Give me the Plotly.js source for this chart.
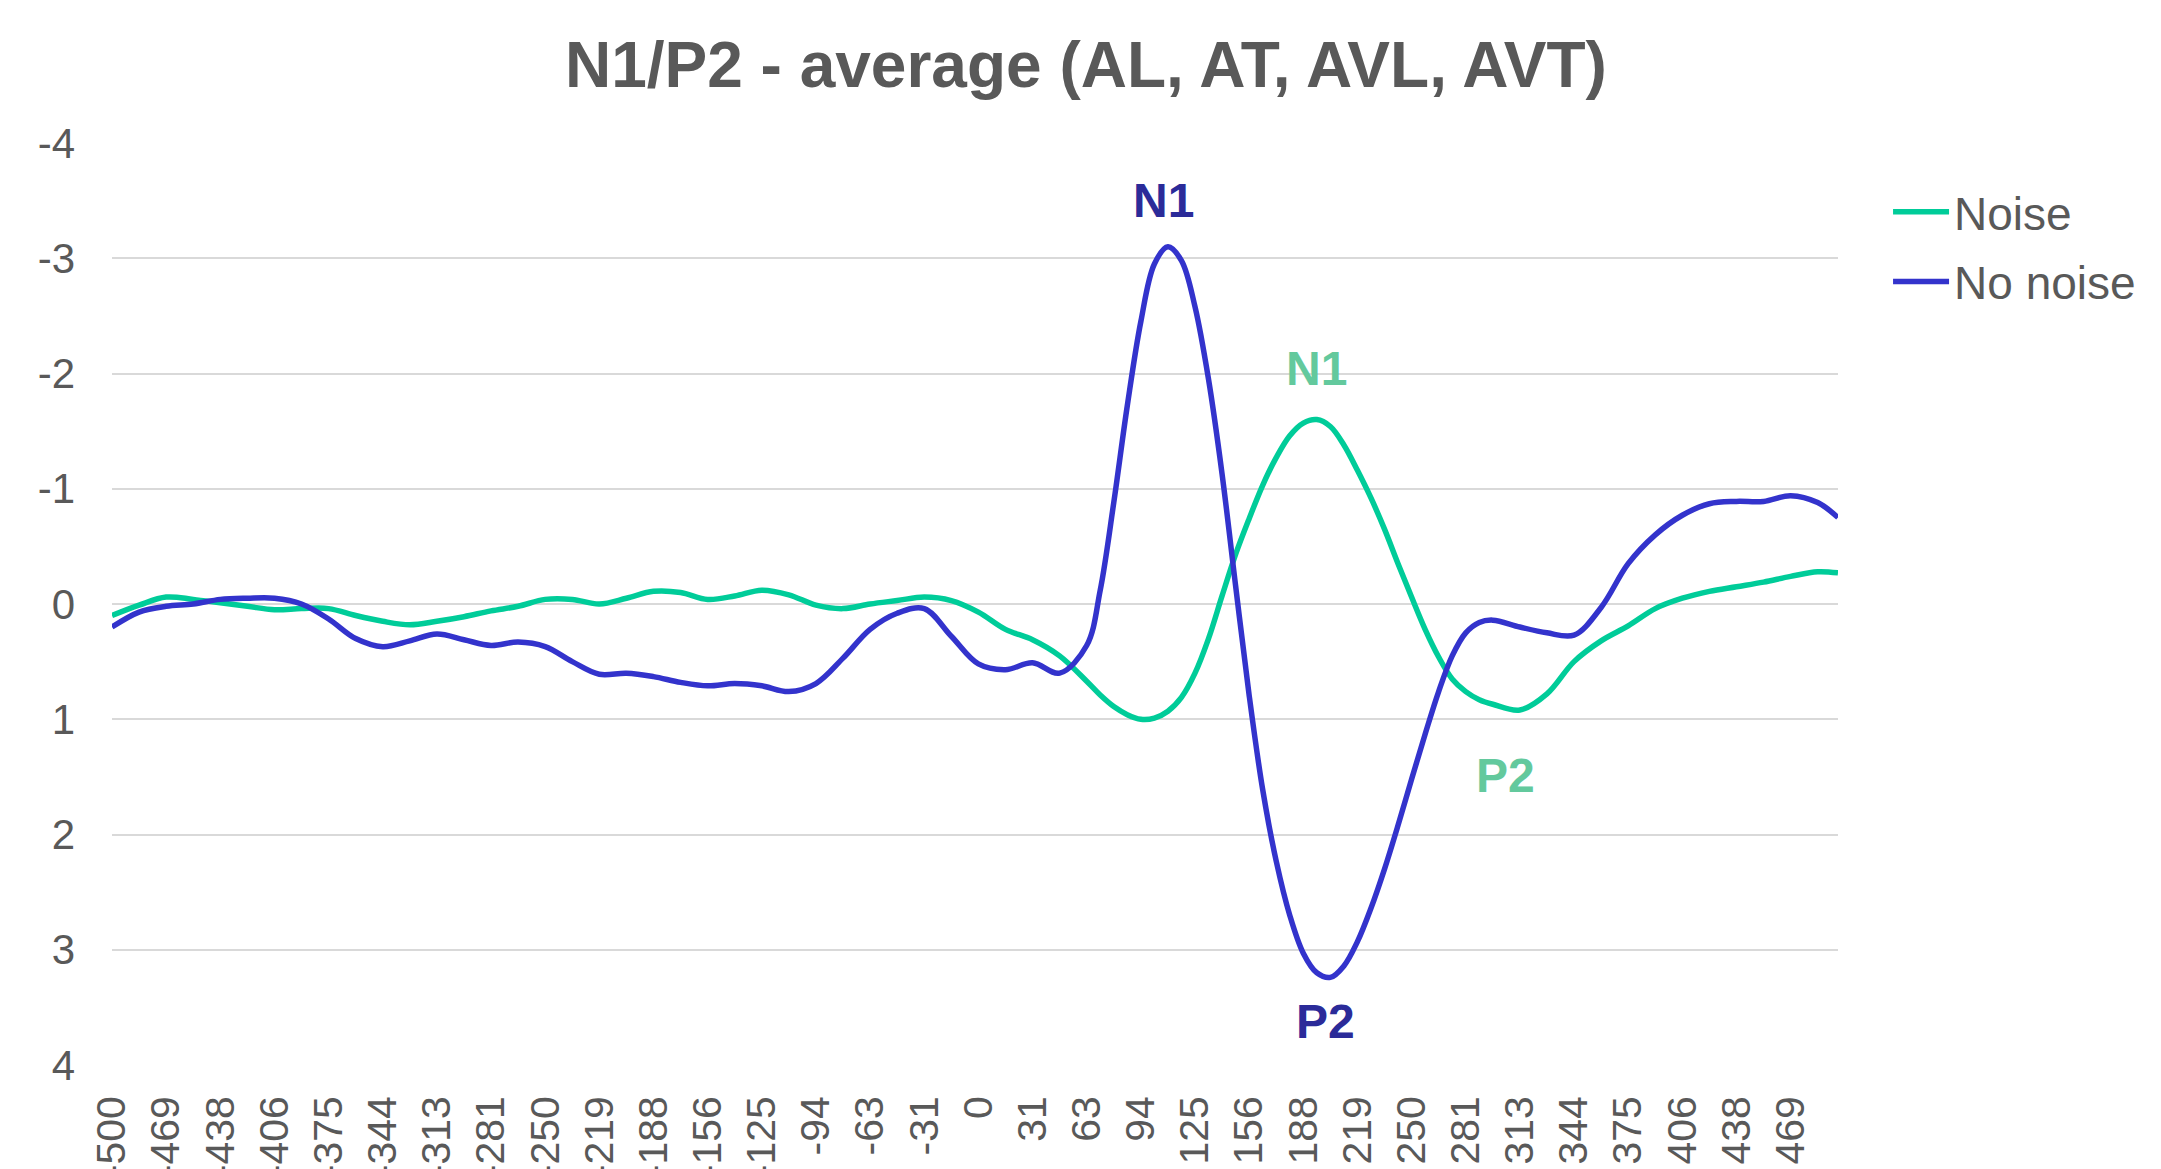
<!DOCTYPE html>
<html><head><meta charset="utf-8">
<script src="https://cdn.plot.ly/plotly-3.0.1.min.js"></script>
<style>html,body{margin:0;padding:0;overflow:hidden;background:#fff}</style>
</head><body><div id="chart" style="width:2161px;height:1169px"></div>
<script>
// time (ms) of each read point
const timesMs = [-500, -484.375, -468.75, -453.125, -437.5, -421.875, -406.25, -390.625, -375, -359.375,
  -343.75, -328.125, -312.5, -296.875, -281.25, -265.625, -250, -234.375, -218.75, -203.125,
  -187.5, -171.875, -156.25, -140.625, -125, -109.375, -93.75, -78.125, -62.5, -46.875,
  -31.25, -15.625, 0, 15.625, 31.25, 46.875, 62.5, 70.3125, 78.125, 85.9375,
  93.75, 101.5625, 109.375, 117.1875, 125, 132.8125, 140.625, 148.4375, 156.25, 164.0625,
  171.875, 179.6875, 187.5, 195.3125, 203.125, 210.9375, 218.75, 226.5625, 234.375, 242.1875,
  250, 257.8125, 265.625, 273.4375, 281.25, 289.0625, 296.875, 312.5, 328.125, 343.75,
  359.375, 375, 390.625, 406.25, 421.875, 437.5, 453.125, 468.75, 484.375, 496.09375];

const noise = [0.10, 0.01, -0.06, -0.04, -0.01, 0.02, 0.05, 0.04, 0.04, 0.10,
  0.15, 0.18, 0.15, 0.11, 0.06, 0.02, -0.04, -0.04, 0.00, -0.05,
  -0.11, -0.10, -0.04, -0.07, -0.12, -0.08, 0.01, 0.04, 0.00, -0.03,
  -0.06, -0.03, 0.07, 0.22, 0.31, 0.45, 0.67, 0.79, 0.89, 0.96,
  1.00, 0.99, 0.93, 0.81, 0.60, 0.30, -0.07, -0.43, -0.74, -1.03,
  -1.27, -1.46, -1.57, -1.60, -1.54, -1.38, -1.16, -0.92, -0.65, -0.35,
  -0.06, 0.22, 0.46, 0.65, 0.76, 0.83, 0.87, 0.92, 0.78, 0.50,
  0.32, 0.19, 0.04, -0.05, -0.11, -0.15, -0.19, -0.24, -0.28, -0.27];

const noNoise = [0.20, 0.07, 0.02, 0.00, -0.04, -0.05, -0.05, 0.00, 0.13, 0.30,
  0.37, 0.32, 0.26, 0.31, 0.36, 0.33, 0.37, 0.50, 0.61, 0.60,
  0.63, 0.68, 0.71, 0.69, 0.71, 0.76, 0.69, 0.47, 0.22, 0.08,
  0.04, 0.28, 0.52, 0.57, 0.51, 0.60, 0.36, -0.12, -0.88, -1.72,
  -2.45, -2.95, -3.10, -2.98, -2.58, -1.95, -1.13, -0.16, 0.79, 1.61,
  2.23, 2.70, 3.03, 3.20, 3.24, 3.14, 2.93, 2.64, 2.30, 1.92,
  1.52, 1.13, 0.76, 0.45, 0.25, 0.16, 0.14, 0.20, 0.25, 0.27,
  0.03, -0.35, -0.60, -0.77, -0.87, -0.89, -0.89, -0.94, -0.88, -0.75];

const xTickValues = [-500, -468.75, -437.5, -406.25, -375, -343.75, -312.5, -281.25, -250, -218.75,
  -187.5, -156.25, -125, -93.75, -62.5, -31.25, 0, 31.25, 62.5, 93.75,
  125, 156.25, 187.5, 218.75, 250, 281.25, 312.5, 343.75, 375, 406.25, 437.5, 468.75];
const xTickLabels = ['-500', '-469', '-438', '-406', '-375', '-344', '-313', '-281', '-250', '-219',
  '-188', '-156', '-125', '-94', '-63', '-31', '0', '31', '63', '94',
  '125', '156', '188', '219', '250', '281', '313', '344', '375', '406', '438', '469'];
const yTickValues = [-4, -3, -2, -1, 0, 1, 2, 3, 4];
const yTickLabels = ['-4', '-3', '-2', '-1', '0', '1', '2', '3', '4'];

const seriesNames = ['Noise', 'No noise'];
const peakText = ['N1', 'N1', 'P2', 'P2'];
const peakX = [106.6, 195.3, 304, 200.5];
const peakY = [-3.50, -2.04, 1.49, 3.62];
const peakSeries = [1, 0, 0, 1];

// styles
const FONT = 'Liberation Sans, Arial, sans-serif';
const GREY = '#595959';
const lineColors = ['#00CC99', '#3333CC'];
const labelColors = ['#63C99D', '#2B2B99'];

const traces = [
  {x: timesMs, y: noise, name: seriesNames[0], type: 'scatter', mode: 'lines', legendgroup: 'g0',
   line: {color: lineColors[0], width: 5.5, shape: 'spline', smoothing: 1}},
  {x: timesMs, y: noNoise, name: seriesNames[1], type: 'scatter', mode: 'lines', legendgroup: 'g1',
   line: {color: lineColors[1], width: 5.5, shape: 'spline', smoothing: 1}}
];

const annotations = peakText.map((t, i) => ({
  x: peakX[i], y: peakY[i], xref: 'x', yref: 'y', text: '<b>' + t + '</b>',
  showarrow: false, xanchor: 'center', yanchor: 'middle',
  font: {family: FONT, size: 48, color: labelColors[peakSeries[i]]}
}));

const layout = {
  width: 2161, height: 1169,
  margin: {l: 112, r: 323, t: 143, b: 104, pad: 0},
  paper_bgcolor: '#fff', plot_bgcolor: '#fff',
  font: {family: FONT, color: GREY},
  title: {text: '<b>N1/P2 - average (AL, AT, AVL, AVT)</b>', font: {family: FONT, size: 64, color: GREY},
    x: 0.5025, xref: 'container', xanchor: 'center', y: 0.9446, yref: 'container', yanchor: 'middle'},
  xaxis: {range: [-500, 496.09375], tickmode: 'array', tickvals: xTickValues, ticktext: xTickLabels,
    tickangle: -90, showgrid: false, zeroline: false, showline: false, ticks: '',
    ticklabelstandoff: 22, tickfont: {family: FONT, size: 41, color: GREY}, automargin: false},
  yaxis: {range: [4, -4], tickmode: 'array', tickvals: yTickValues, ticktext: yTickLabels, showgrid: true,
    gridcolor: '#D9D9D9', gridwidth: 2, zeroline: false, showline: false, ticks: '',
    ticklabelstandoff: 36, tickfont: {family: FONT, size: 42, color: GREY}, automargin: false},
  showlegend: true,
  legend: {x: 1.029, xanchor: 'left', y: 0.965, yanchor: 'top', font: {family: FONT, size: 46, color: GREY},
    bgcolor: 'rgba(0,0,0,0)', traceorder: 'grouped', tracegroupgap: 7, itemwidth: 56},
  annotations: annotations
};

Plotly.newPlot('chart', traces, layout, {staticPlot: true, displayModeBar: false});
</script>
</body></html>
